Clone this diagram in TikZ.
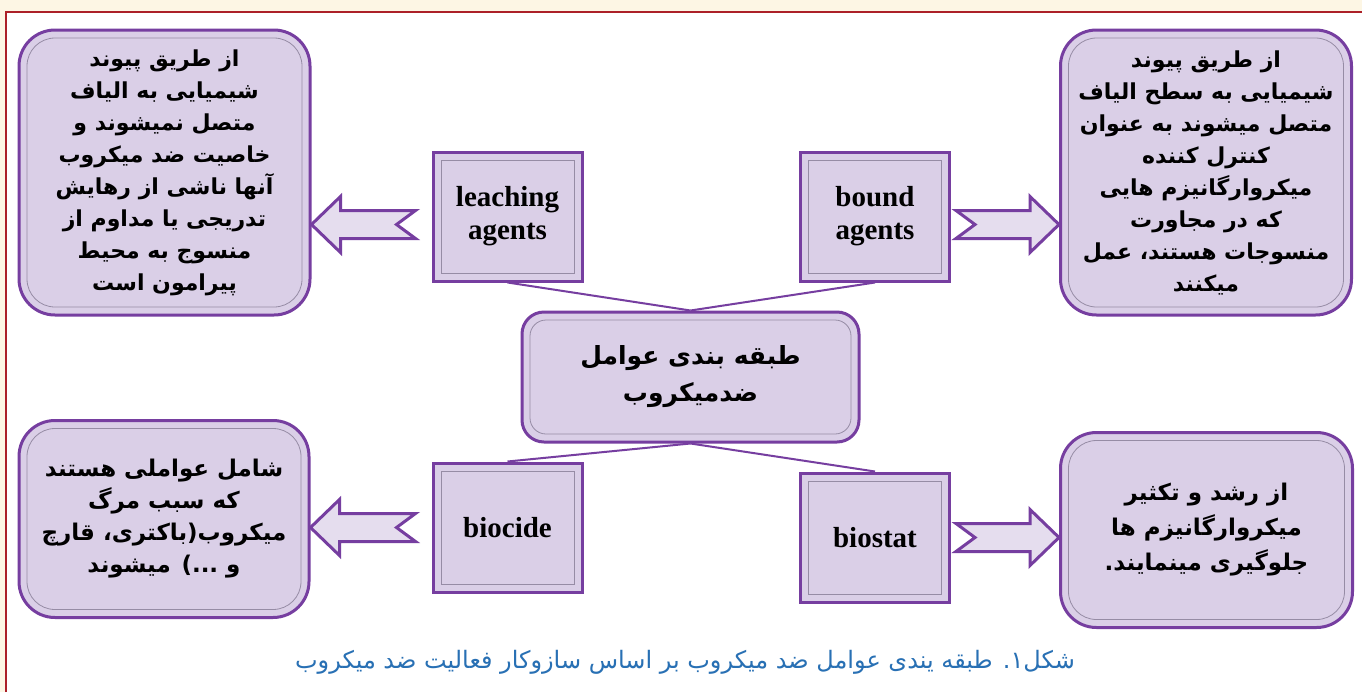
\documentclass[tikz,border=0pt]{standalone}
\usepackage{fontspec}
\setmainfont{Liberation Serif}
\newfontfamily\fafont[Script=Arabic]{DejaVu Sans}
\usepackage{tikz}
\usetikzlibrary{positioning,calc}
\TeXXeTstate=1
\definecolor{lav}{RGB}{218,207,231}
\definecolor{purp}{RGB}{118,62,160}
\definecolor{bevgray}{RGB}{150,140,165}
\definecolor{pagebg}{RGB}{253,246,228}
\definecolor{framered}{RGB}{172,32,40}
\definecolor{capblue}{RGB}{40,112,180}
\newcommand{\rl}[1]{\beginR #1\endR}
% notched block arrow from #1 (tail) to #2 (tip), horizontal
\newcommand{\notcharrow}[2]{%
 \draw[parrow] let \p1=(#1), \p2=(#2), \n1={ifthenelse(\x2>\x1,1,-1)},
   \n2={\x2-(\n1)*14.5pt}, \n3={\x1+(\n1)*9.5pt} in
   (\x1,\y1+7pt) -- (\n2,\y1+7pt) -- (\n2,\y1+14pt) -- (\x2,\y1)
   -- (\n2,\y1-14pt) -- (\n2,\y1-7pt) -- (\x1,\y1-7pt) -- (\n3,\y1) -- cycle;}
\tikzset{bevel/.style={path picture={\draw[bevgray, thin, rounded corners=#1]
   ([shift={(4pt,-4pt)}]path picture bounding box.north west) rectangle
   ([shift={(-4pt,4pt)}]path picture bounding box.south east);}}}
\tikzstyle{sbox}=[rectangle, draw=purp, fill=lav, line width=1.5pt,
 minimum width=74.5pt, minimum height=64.5pt, inner sep=2pt, align=center,
 font=\bfseries\fontsize{14.5}{16.5}\selectfont, bevel=0pt]
\tikzstyle{rbox}=[rectangle, rounded corners=18pt, draw=purp, fill=lav, line width=1.5pt,
 minimum width=145.5pt, minimum height=142.5pt, inner sep=2pt, align=center,
 font=\fafont\bfseries\fontsize{11}{16}\selectfont, bevel=14pt]
\tikzstyle{mbox}=[rbox, rounded corners=11pt, minimum width=168.5pt, minimum height=65pt,
 font=\fafont\bfseries\fontsize{12.5}{18.5}\selectfont, bevel=8pt]
\tikzstyle{pline}=[-, draw=purp, line width=1pt]
\tikzstyle{parrow}=[draw=purp, fill=lav!70!white, line width=1.5pt, line join=miter]

\begin{document}
\begin{tikzpicture}[x=0.5pt, y=-0.5pt]
\useasboundingbox (0,0) rectangle (1362,692);
\fill[pagebg] (0,0) rectangle (1362,692);
\fill[white] (6,12) rectangle (1362,692);
\draw[framered, line width=1.25pt] (6,692) -- (6,12) -- (1362,12);

\node (CLASS) [mbox] at (690.5,377) {\rl{طبقه بندی عوامل}\\ \rl{ضدمیکروب}};

\node (LEACH) [sbox, above=14pt of CLASS.north, xshift=-91.5pt] {leaching\\agents};
\node (BOUND) [sbox, above=14pt of CLASS.north, xshift=92.25pt] {bound\\agents};
\node (BIOCD) [sbox, below=9pt of CLASS.south, xshift=-91.5pt] {biocide};
\node (BIOST) [sbox, below=14pt of CLASS.south, xshift=92.25pt] {biostat};

\node (LEACHtxt) [rbox, left=60pt of LEACH, yshift=22pt] {\rl{از طریق پیوند}\\
 \rl{شیمیایی به الیاف}\\ \rl{متصل نمیشوند و}\\ \rl{خاصیت ضد میکروب}\\
 \rl{آنها ناشی از رهایش}\\ \rl{تدریجی یا مداوم از}\\ \rl{منسوج به محیط}\\ \rl{پیرامون است}};
\node (BOUNDtxt) [rbox, right=54pt of BOUND, yshift=22pt] {\rl{از طریق پیوند}\\
 \rl{شیمیایی به سطح الیاف}\\ \rl{متصل میشوند به عنوان}\\ \rl{کنترل کننده}\\
 \rl{میکروارگانیزم هایی}\\ \rl{که در مجاورت}\\ \rl{منسوجات هستند، عمل}\\ \rl{میکنند}};
\node (BIOCDtxt) [rbox, minimum width=145pt, minimum height=98.5pt,
 font=\fafont\bfseries\fontsize{11.5}{16}\selectfont,
 left=60.5pt of BIOCD, yshift=4.25pt] {\rl{شامل عواملی هستند}\\
 \rl{که سبب مرگ}\\ \rl{میکروب(باکتری، قارچ}\\ \rl{و ...) میشوند}};
\node (BIOSTtxt) [rbox, minimum width=146pt, minimum height=97.5pt,
 font=\fafont\bfseries\fontsize{11.5}{17.5}\selectfont,
 right=54pt of BIOST, yshift=3.75pt] {\rl{از رشد و تکثیر}\\
 \rl{میکروارگانیزم ها}\\ \rl{جلوگیری مینمایند.}};

\draw[pline] (LEACH.south) -- (CLASS.north);
\draw[pline] (BOUND.south) -- (CLASS.north);
\draw[pline] (CLASS.south) -- (BIOCD.north);
\draw[pline] (CLASS.south) -- (BIOST.north);

\notcharrow{[xshift=-8pt, yshift=-4pt]LEACH.west}{LEACHtxt.east |- LEACH.west}
\notcharrow{[xshift=2.5pt, yshift=-4pt]BOUND.east}{BOUNDtxt.west |- BOUND.east}
\notcharrow{[xshift=-8pt]BIOCD.west}{BIOCDtxt.east |- BIOCD.west}
\notcharrow{[xshift=2.5pt]BIOST.east}{BIOSTtxt.west |- BIOST.east}

\node (CAPT) [text=capblue, font=\fafont\fontsize{12}{14}\selectfont] at (685,662)
 {\rl{شکل۱. طبقه یندی عوامل ضد میکروب بر اساس سازوکار فعالیت ضد میکروب}};
\end{tikzpicture}
\end{document}
